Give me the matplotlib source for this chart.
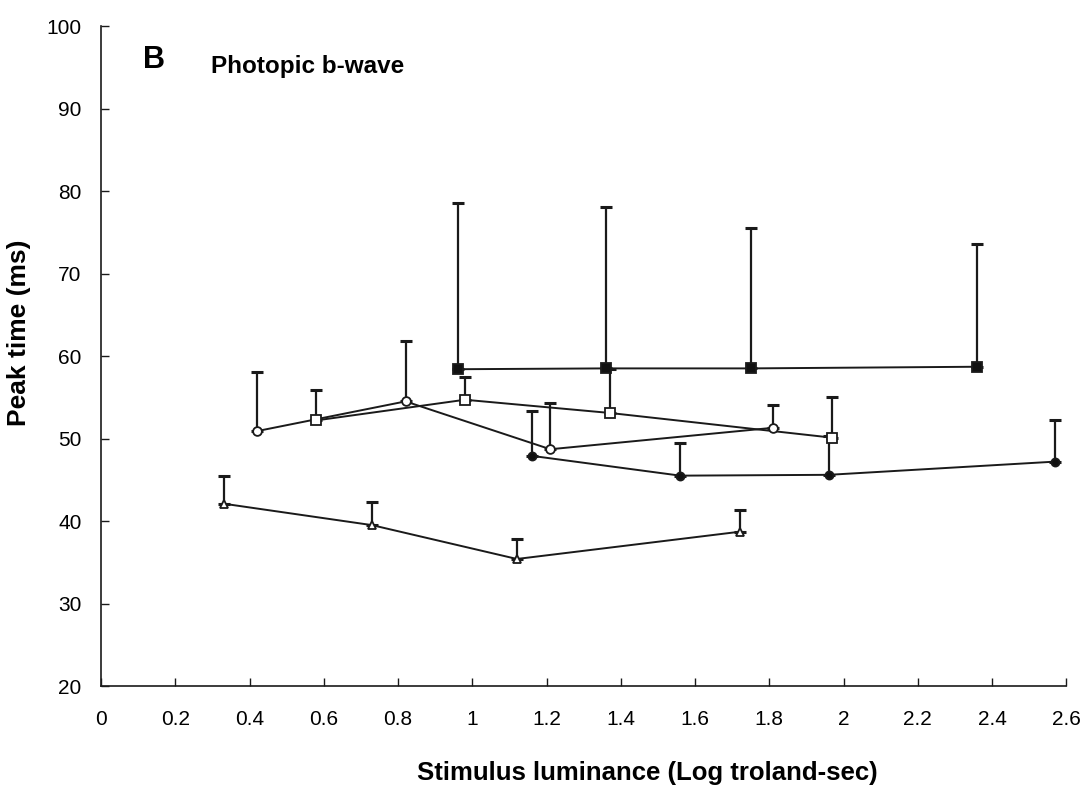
import matplotlib
matplotlib.use("Agg")
import matplotlib.pyplot as plt
import numpy as np

# Photopic b-wave peak time vs stimulus luminance, five groups (mean + upper SD)
tri_x = [0.33, 0.73, 1.12, 1.72]
tri_y = [42.1, 39.5, 35.4, 38.7]
tri_top = [45.4, 42.3, 37.8, 41.3]

ocirc_x = [0.42, 0.82, 1.21, 1.81]
ocirc_y = [50.9, 54.5, 48.7, 51.3]
ocirc_top = [58.1, 61.8, 54.3, 54.1]

osq_x = [0.58, 0.98, 1.37, 1.97]
osq_y = [52.2, 54.7, 53.1, 50.1]
osq_top = [55.9, 57.5, 58.4, 55.0]

fsq_x = [0.96, 1.36, 1.75, 2.36]
fsq_y = [58.4, 58.5, 58.5, 58.7]
fsq_top = [78.6, 78.1, 75.5, 73.6]

fcirc_x = [1.16, 1.56, 1.96, 2.57]
fcirc_y = [47.9, 45.5, 45.6, 47.2]
fcirc_top = [53.3, 49.4, 50.3, 52.3]

x_ticks = [0, 0.2, 0.4, 0.6, 0.8, 1, 1.2, 1.4, 1.6, 1.8, 2, 2.2, 2.4, 2.6]
x_tick_labels = ["0", "0.2", "0.4", "0.6", "0.8", "1", "1.2", "1.4", "1.6",
                 "1.8", "2", "2.2", "2.4", "2.6"]
y_ticks = [20, 30, 40, 50, 60, 70, 80, 90, 100]

series = [
    # x, y, top, marker, face, size
    (fsq_x, fsq_y, fsq_top, "s", "#111111", 6.5),
    (osq_x, osq_y, osq_top, "s", "white", 6.5),
    (ocirc_x, ocirc_y, ocirc_top, "o", "white", 6.3),
    (fcirc_x, fcirc_y, fcirc_top, "o", "#111111", 5.8),
    (tri_x, tri_y, tri_top, "^", "white", 5.5),
]

plt.rcParams["font.family"] = ["Liberation Sans", "DejaVu Sans"]

fig = plt.figure(figsize=(10.88, 7.88), dpi=100)
ax = fig.add_axes([0.093, 0.1294, 0.887, 0.8376])

ink = "#1a1a1a"
for xs, ys, tops, mk, face, ms in series:
    xs = np.asarray(xs)
    ys = np.asarray(ys)
    up = np.asarray(tops) - ys
    ax.errorbar(xs, ys, yerr=[np.zeros_like(up), up], fmt="none",
                ecolor=ink, elinewidth=1.6, capsize=4, capthick=2.2,
                zorder=2)
for i, (xs, ys, tops, mk, face, ms) in enumerate(series):
    ax.plot(xs, ys, color=ink, lw=1.4, zorder=3)
    ax.plot(xs, ys, linestyle="none", marker=mk, markersize=ms,
            markerfacecolor=face, markeredgecolor=ink, markeredgewidth=1.3,
            zorder=4 + i * 0.1)

ax.set_xlim(0, 2.6)
ax.set_ylim(20, 100)
ax.set_xticks(x_ticks)
ax.set_xticklabels(x_tick_labels, fontsize=15)
ax.set_yticks(y_ticks)
ax.set_yticklabels([str(v) for v in y_ticks], fontsize=15)

for side in ("top", "right"):
    ax.spines[side].set_visible(False)
for side in ("left", "bottom"):
    ax.spines[side].set_linewidth(1.2)
    ax.spines[side].set_color(ink)
ax.tick_params(direction="in", length=6, width=1.0, color=ink)
ax.tick_params(axis="x", pad=17)
ax.tick_params(axis="y", pad=14)

ax.set_xlabel("Stimulus luminance (Log troland-sec)", fontsize=18.5,
              fontweight="bold")
ax.xaxis.set_label_coords(0.566, -0.113)
ax.set_ylabel("Peak time (ms)", fontsize=19, fontweight="bold")
ax.yaxis.set_label_coords(-0.073, 0.536)

ax.text(0.043, 0.949, "B", transform=ax.transAxes, fontsize=22,
        fontweight="bold", va="center", ha="left")
ax.text(0.114, 0.939, "Photopic b-wave", transform=ax.transAxes, fontsize=17.5,
        fontweight="bold", va="center", ha="left")

fig.savefig("out.png", dpi=100, facecolor="white")
